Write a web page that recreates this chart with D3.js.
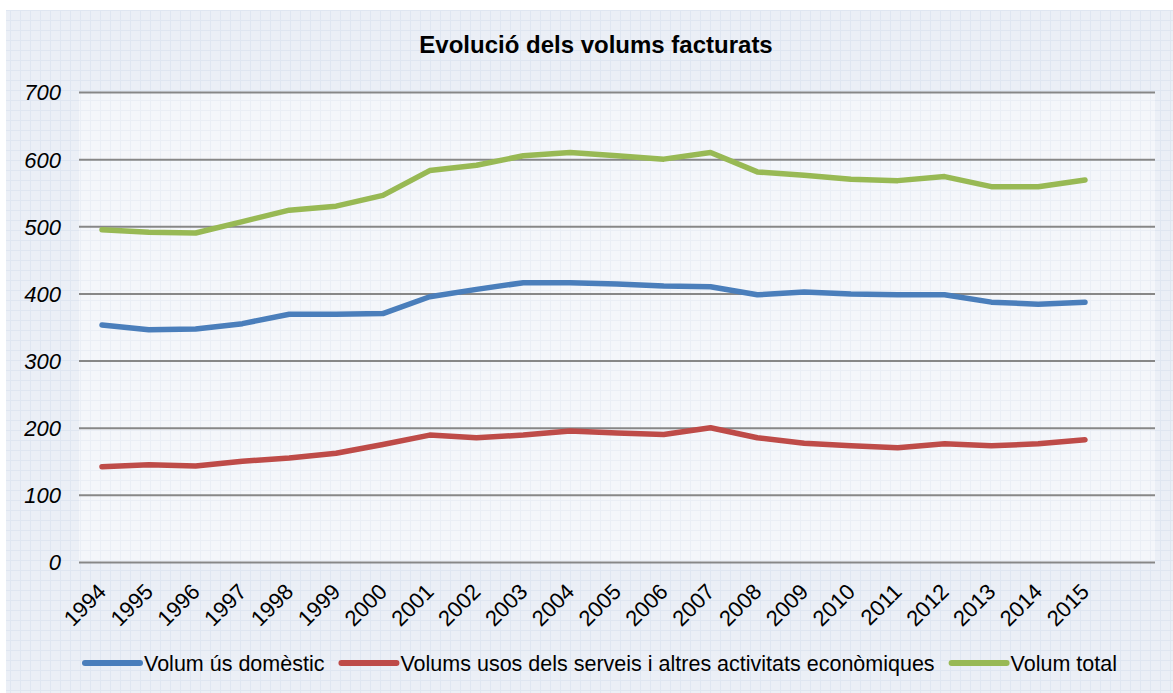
<!DOCTYPE html>
<html>
<head>
<meta charset="utf-8">
<script src="https://cdn.jsdelivr.net/npm/d3@7"></script>
<style>
  body { margin: 0; background: #fff; }
  text { font-family: "Liberation Sans", Arial, sans-serif; fill: #000; }
</style>
</head>
<body>
<div id="chart"></div>
<script>
// Data
var years = ['1994', '1995', '1996', '1997', '1998', '1999', '2000', '2001', '2002', '2003', '2004',
             '2005', '2006', '2007', '2008', '2009', '2010', '2011', '2012', '2013', '2014', '2015'];
var domestic = [353, 346, 347, 355, 369, 369, 370, 395, 406, 416, 416,
                414, 411, 410, 398, 402, 399, 398, 398, 387, 384, 387];
var services = [142, 145, 143, 150, 155, 162, 175, 189, 185, 189, 195,
                192, 190, 200, 185, 177, 173, 170, 176, 173, 176, 182];
var total    = [495, 491, 490, 507, 524, 530, 546, 583, 591, 605, 610,
                605, 600, 610, 581, 576, 570, 568, 574, 559, 559, 569];
var yTicks = [0, 100, 200, 300, 400, 500, 600, 700];
var seriesNames = ['Volum ús domèstic', 'Volums usos dels serveis i altres activitats econòmiques', 'Volum total'];

var series = [
  {name: seriesNames[0], values: domestic, color: '#4a7ebb'},
  {name: seriesNames[1], values: services, color: '#be4b48'},
  {name: seriesNames[2], values: total,    color: '#98b954'}
];

const WIDTH  = 1173;
const HEIGHT = 693;
var plot = {left: 79, right: 1155, top: 92, bottom: 562};

var svg = d3.select('#chart').append('svg')
  .attr('width', WIDTH)
  .attr('height', HEIGHT);

// Graph paper patterns for the card and the plot area
var defs = svg.append('defs');
function gridPattern(id, bg, line) {
  var p = defs.append('pattern')
    .attr('id', id)
    .attr('width', 10).attr('height', 10)
    .attr('patternUnits', 'userSpaceOnUse');
  p.append('rect').attr('width', 10).attr('height', 10).attr('fill', bg);
  p.append('path').attr('d', 'M0,0.5H10M0.5,0V10')
    .attr('stroke', line).attr('stroke-width', 1);
}
gridPattern('outer', '#ebeff6', '#dfe6f1');
gridPattern('inner', '#f4f6fa', '#eaeef5');

svg.append('rect')
  .attr('x', 6).attr('y', 10)
  .attr('width', WIDTH - 6).attr('height', HEIGHT - 10)
  .attr('fill', 'url(#outer)');
svg.append('rect')
  .attr('x', plot.left).attr('y', plot.top)
  .attr('width', plot.right - plot.left).attr('height', plot.bottom - plot.top)
  .attr('fill', 'url(#inner)');

// Scales
var x = d3.scalePoint()
  .domain(years)
  .range([102, 1085]);
var y = d3.scaleLinear()
  .domain([0, 700])
  .range([plot.bottom, plot.top]);

// Horizontal gridlines with y labels
var yAxis = d3.axisLeft(y)
  .tickValues(yTicks)
  .tickSize(-(plot.right - plot.left))
  .tickPadding(18);
var yg = svg.append('g')
  .attr('transform', `translate(${plot.left}, 0)`)
  .call(yAxis);
yg.select('.domain').remove();
yg.selectAll('.tick line')
  .attr('stroke', '#878787')
  .attr('stroke-width', 2);
yg.selectAll('.tick text')
  .style('font-size', '22px')
  .style('font-style', 'italic')
  .attr('dy', '0.36em');

// Category labels, rotated
var xAxis = d3.axisBottom(x).tickSize(0);
var xg = svg.append('g')
  .attr('transform', `translate(0, ${plot.bottom})`)
  .call(xAxis);
xg.select('.domain').remove();
xg.selectAll('.tick text')
  .style('font-size', '22px')
  .attr('text-anchor', 'end')
  .attr('x', 0).attr('y', 0).attr('dy', 0)
  .attr('transform', 'translate(5, 31) rotate(-45)');

// Lines
var line = d3.line()
  .x((d, i) => x(years[i]))
  .y((d) => y(d));

svg.selectAll('.series')
  .data(series)
  .enter().append('path')
  .attr('class', 'series')
  .attr('d', (d) => line(d.values))
  .attr('fill', 'none')
  .attr('stroke', (d) => d.color)
  .attr('stroke-width', 5.5)
  .attr('stroke-linejoin', 'round')
  .attr('stroke-linecap', 'round');

// Title
svg.append('text')
  .attr('x', 596)
  .attr('y', 53)
  .attr('text-anchor', 'middle')
  .style('font-size', '24px')
  .style('font-weight', 'bold')
  .text('Evolució dels volums facturats');

// Legend, laid out left to right
var lx = 85;
var legend = svg.append('g');
series.forEach(function(s) {
  legend.append('line')
    .attr('x1', lx).attr('x2', lx + 55)
    .attr('y1', 663).attr('y2', 663)
    .attr('stroke', s.color)
    .attr('stroke-width', 6)
    .attr('stroke-linecap', 'round');
  var t = legend.append('text')
    .attr('x', lx + 59)
    .attr('y', 671)
    .style('font-size', '21.5px')
    .text(s.name);
  lx += 59 + t.node().getComputedTextLength() + 17;
});
</script>
</body>
</html>
